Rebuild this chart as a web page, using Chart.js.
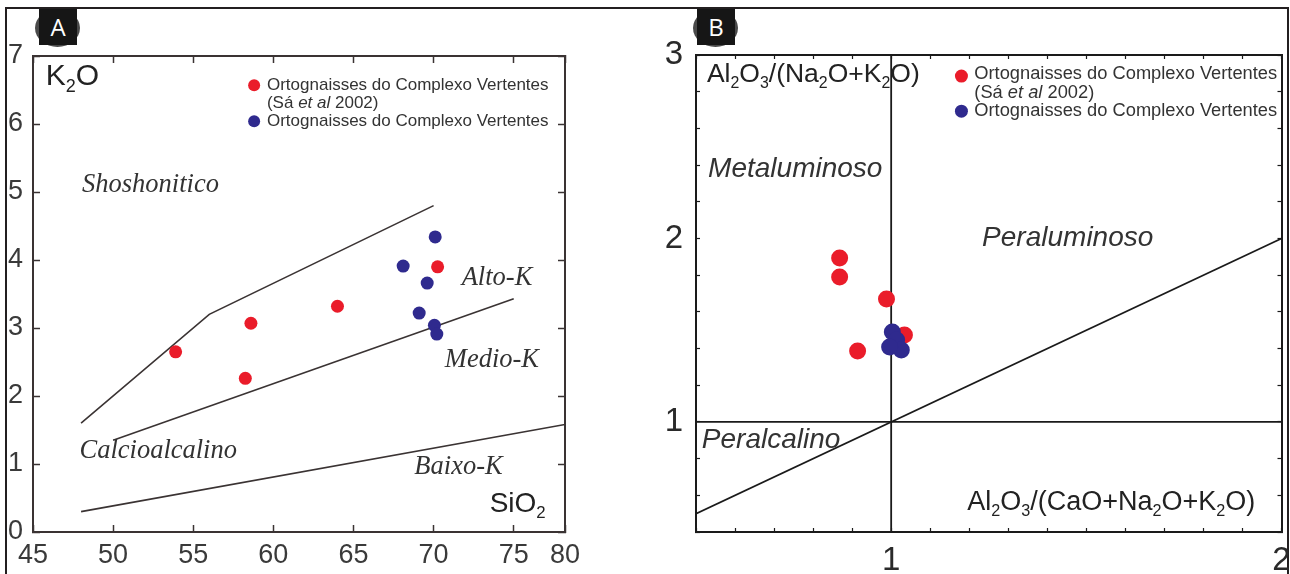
<!DOCTYPE html>
<html><head><meta charset="utf-8">
<script src="https://cdn.jsdelivr.net/npm/chart.js@4.4.1/dist/chart.umd.min.js"></script>
<style>
html,body{margin:0;padding:0;background:#fff;width:1290px;height:574px;overflow:hidden;}
#frame{position:absolute;left:5px;top:7px;width:1284px;height:620px;border:2.5px solid #231f20;box-sizing:border-box;}
.wrap{position:absolute;top:0;height:574px;}
#wrapA{left:0;width:620px;}
#wrapB{left:620px;width:670px;}
.ell{position:absolute;top:9px;width:45px;height:38px;border-radius:50%;background:#4a4a4a;}
.badge{position:absolute;top:9px;width:38px;height:36px;background:#161616;color:#fff;font:24px "Open Sans",sans-serif;text-align:center;line-height:36px;}
</style>
</head><body>
<div id="frame"></div>
<div class="wrap" id="wrapA"><canvas id="cA" width="620" height="574"></canvas></div>
<div class="wrap" id="wrapB"><canvas id="cB" width="670" height="574"></canvas></div>
<div class="ell" style="left:35px"></div><div class="badge" style="left:39px">A</div>
<div class="ell" style="left:693px"></div><div class="badge" style="left:697px">B</div>
<script>
// ---------- Panel A data (K2O vs SiO2) ----------
const xTickValsA = [45, 50, 55, 60, 65, 70, 75, 78.2];
const xTickLabelsA = ['45', '50', '55', '60', '65', '70', '75', '80'];
const yTickValsA = [0, 1, 2, 3, 4, 5, 6, 7];
const redA_SiO2 = [53.9, 58.6, 58.25, 64.0, 70.25];
const redA_K2O = [2.65, 3.07, 2.26, 3.32, 3.90];
const blueA_SiO2 = [70.1, 68.1, 69.6, 69.1, 70.05, 70.2];
const blueA_K2O = [4.34, 3.91, 3.66, 3.22, 3.04, 2.91];
const shoshoLineSiO2 = [48, 56, 70];
const shoshoLineK2O = [1.6, 3.2, 4.8];
const highKLineSiO2 = [50, 75];
const highKLineK2O = [1.35, 3.43];
const lowKLineSiO2 = [48, 78.2];
const lowKLineK2O = [0.3, 1.58];

// ---------- Panel B data (A/NK vs A/CNK) ----------
const xLabelledB = [1, 2];
const yLabelledB = [1, 2, 3];
const redB_ACNK = [0.868, 0.868, 0.988, 0.914, 1.034];
const redB_ANK = [1.893, 1.79, 1.67, 1.386, 1.474];
const blueB_ACNK = [1.003, 1.014, 1.026, 0.996];
const blueB_ANK = [1.49, 1.446, 1.392, 1.408];
const diagLineX = [0.5, 2];
const diagLineY = [0.5, 2];
const vLineX = [1, 1];
const vLineY = [0.4, 3];
const hLineX = [0.5, 2];
const hLineY = [1, 1];

const legendText1 = 'Ortognaisses do Complexo Vertentes';
const RED = '#ea1c2a', BLUE = '#2f2a8e', AX = '#3a3333', TXT = '#333333';

function pts(xs, ys) { return xs.map((x, i) => ({x: x, y: ys[i]})); }

function rich(ctx, x, y, parts, size, family, color, italic) {
  ctx.save();
  ctx.fillStyle = color; ctx.textBaseline = 'middle'; ctx.textAlign = 'left';
  let cx = x;
  parts.forEach(p => {
    const [t, k] = p;
    const it = italic || k === 'i';
    const sz = k === 's' ? size * 0.6 : size;
    ctx.font = (it ? 'italic ' : '') + sz + 'px ' + family;
    const dy = k === 's' ? size * 0.32 : 0;
    ctx.fillText(t, cx, y + dy);
    cx += ctx.measureText(t).width;
  });
  ctx.restore();
}
function dot(ctx, x, y, r, c) { ctx.save(); ctx.fillStyle = c; ctx.beginPath(); ctx.arc(x, y, r, 0, Math.PI * 2); ctx.fill(); ctx.restore(); }

function fixedAxis(size, horiz) {
  return function (s) {
    if (horiz) s.height = size; else s.width = size;
    s.paddingLeft = 0; s.paddingRight = 0; s.paddingTop = 0; s.paddingBottom = 0;
  };
}

const SANS = '"Liberation Sans", Arial, sans-serif';
const SERIF = '"Liberation Serif", "Times New Roman", serif';

// ---------- Chart A ----------
const annotA = {
  id: 'annotA',
  afterDatasetsDraw(chart) {
    const c = chart.ctx, X = v => chart.scales.x.getPixelForValue(v), Y = v => chart.scales.y.getPixelForValue(v);
    c.save();
    c.font = 'italic 26.5px ' + SERIF; c.fillStyle = TXT; c.textBaseline = 'middle';
    c.fillText('Shoshonitico', X(48.06), Y(5.10));
    c.fillText('Alto-K', X(71.75), Y(3.74));
    c.fillText('Medio-K', X(70.7), Y(2.53));
    c.fillText('Calcioalcalino', X(47.9), Y(1.19));
    c.fillText('Baixo-K', X(68.8), Y(0.96));
    c.restore();
    rich(c, X(45.8), Y(6.69), [['K'], ['2', 's'], ['O']], 30, SANS, '#222');
    rich(c, X(73.5), Y(0.41), [['SiO'], ['2', 's']], 28, SANS, '#222');
    dot(c, X(58.8), Y(6.57), 6, RED);
    dot(c, X(58.8), Y(6.04), 6, BLUE);
    rich(c, X(59.6), Y(6.57), [[legendText1]], 17, SANS, TXT);
    rich(c, X(59.6), Y(6.31), [['(Sá '], ['et al', 'i'], [' 2002)']], 17, SANS, TXT);
    rich(c, X(59.6), Y(6.04), [[legendText1]], 17, SANS, TXT);
  }
};

const lineDs = (xs, ys, w, col) => ({type: 'line', data: pts(xs, ys), showLine: true, pointRadius: 0, borderColor: col, borderWidth: w, fill: false, tension: 0});

new Chart(document.getElementById('cA'), {
  type: 'scatter',
  data: {
    datasets: [
      {data: pts(blueA_SiO2, blueA_K2O), backgroundColor: BLUE, borderWidth: 0, pointRadius: 6.5},
      {data: pts(redA_SiO2, redA_K2O), backgroundColor: RED, borderWidth: 0, pointRadius: 6.5},
      lineDs(shoshoLineSiO2, shoshoLineK2O, 1.6, AX),
      lineDs(highKLineSiO2, highKLineK2O, 1.6, AX),
      lineDs(lowKLineSiO2, lowKLineK2O, 1.6, AX)
    ]
  },
  options: {
    responsive: false, animation: false, devicePixelRatio: 1,
    layout: {padding: 0},
    plugins: {legend: {display: false}, tooltip: {enabled: false}},
    scales: {
      x: {type: 'linear', position: 'bottom', min: 45, max: 78.2,
        afterBuildTicks: s => { s.ticks = xTickValsA.map(v => ({value: v})); },
        afterFit: fixedAxis(42, true),
        ticks: {callback: v => xTickLabelsA[xTickValsA.indexOf(v)], font: {family: SANS, size: 27}, color: '#3a3a3a', padding: 14, maxRotation: 0, autoSkip: false},
        grid: {drawOnChartArea: false, tickLength: -7, tickColor: AX, tickWidth: 1.5},
        border: {color: AX, width: 2}},
      x2: {type: 'linear', position: 'top', min: 45, max: 78.2,
        afterBuildTicks: s => { s.ticks = xTickValsA.map(v => ({value: v})); },
        afterFit: fixedAxis(56, true),
        ticks: {display: false},
        grid: {drawOnChartArea: false, tickLength: -7, tickColor: AX, tickWidth: 1.5},
        border: {color: AX, width: 2}},
      y: {type: 'linear', position: 'left', min: 0, max: 7,
        afterBuildTicks: s => { s.ticks = yTickValsA.map(v => ({value: v})); },
        afterFit: fixedAxis(33, false),
        ticks: {font: {family: SANS, size: 27}, color: '#3a3a3a', padding: 17},
        grid: {drawOnChartArea: false, tickLength: -7, tickColor: AX, tickWidth: 1.5},
        border: {color: AX, width: 2}},
      y2: {type: 'linear', position: 'right', min: 0, max: 7,
        afterBuildTicks: s => { s.ticks = yTickValsA.map(v => ({value: v})); },
        afterFit: fixedAxis(55, false),
        ticks: {display: false},
        grid: {drawOnChartArea: false, tickLength: -7, tickColor: AX, tickWidth: 1.5},
        border: {color: AX, width: 2}}
    }
  },
  plugins: [annotA]
});

// ---------- Chart B ----------
const annotB = {
  id: 'annotB',
  afterDatasetsDraw(chart) {
    const c = chart.ctx, X = v => chart.scales.x.getPixelForValue(v), Y = v => chart.scales.y.getPixelForValue(v);
    rich(c, X(0.528), Y(2.89), [['Al'], ['2', 's'], ['O'], ['3', 's'], ['/(Na'], ['2', 's'], ['O+K'], ['2', 's'], ['O)']], 26.5, SANS, '#222');
    rich(c, X(1.195), Y(0.558), [['Al'], ['2', 's'], ['O'], ['3', 's'], ['/(CaO+Na'], ['2', 's'], ['O+K'], ['2', 's'], ['O)']], 27, SANS, '#222');
    rich(c, X(0.531), Y(2.378), [['Metaluminoso']], 28, SANS, TXT, true);
    rich(c, X(1.233), Y(2.002), [['Peraluminoso']], 28, SANS, TXT, true);
    rich(c, X(0.515), Y(0.901), [['Peralcalino']], 28, SANS, TXT, true);
    dot(c, X(1.18), Y(2.885), 6.5, RED);
    dot(c, X(1.18), Y(2.694), 6.5, BLUE);
    rich(c, X(1.213), Y(2.896), [[legendText1]], 18.3, SANS, TXT);
    rich(c, X(1.213), Y(2.792), [['(Sá '], ['et al', 'i'], [' 2002)']], 18.3, SANS, TXT);
    rich(c, X(1.213), Y(2.694), [[legendText1]], 18.3, SANS, TXT);
  }
};
const BX = '#1a1a1a';
const isLab = (arr, v) => arr.some(a => Math.abs(a - v) < 1e-6);
new Chart(document.getElementById('cB'), {
  type: 'scatter',
  data: {
    datasets: [
      {data: pts(blueB_ACNK, blueB_ANK), backgroundColor: BLUE, borderWidth: 0, pointRadius: 8.5},
      {data: pts(redB_ACNK, redB_ANK), backgroundColor: RED, borderWidth: 0, pointRadius: 8.5},
      lineDs(diagLineX, diagLineY, 1.8, BX),
      lineDs(vLineX, vLineY, 1.8, BX),
      lineDs(hLineX, hLineY, 1.8, BX)
    ]
  },
  options: {
    responsive: false, animation: false, devicePixelRatio: 1,
    layout: {padding: 0},
    plugins: {legend: {display: false}, tooltip: {enabled: false}},
    scales: {
      x: {type: 'linear', position: 'bottom', min: 0.5, max: 2,
        afterFit: fixedAxis(42, true),
        ticks: {stepSize: 0.1, autoSkip: false, maxRotation: 0, callback: v => isLab(xLabelledB, v) ? String(Math.round(v)) : '', font: {family: SANS, size: 33}, color: '#2a2a2a', padding: 13},
        grid: {drawOnChartArea: false, tickLength: -4, tickColor: BX, tickWidth: 1.2},
        border: {color: BX, width: 2}},
      x2: {type: 'linear', position: 'top', min: 0.5, max: 2,
        afterFit: fixedAxis(55, true),
        ticks: {stepSize: 0.1, autoSkip: false, display: false},
        grid: {drawOnChartArea: false, tickLength: -4, tickColor: BX, tickWidth: 1.2},
        border: {color: BX, width: 2}},
      y: {type: 'linear', position: 'left', min: 0.4, max: 3,
        afterFit: fixedAxis(76, false),
        ticks: {stepSize: 0.2, autoSkip: false, callback: v => isLab(yLabelledB, v) ? String(Math.round(v)) : '', font: {family: SANS, size: 33}, color: '#2a2a2a', padding: 17},
        grid: {drawOnChartArea: false, tickLength: -4, tickColor: BX, tickWidth: 1.2},
        border: {color: BX, width: 2}},
      y2: {type: 'linear', position: 'right', min: 0.4, max: 3,
        afterFit: fixedAxis(7, false),
        ticks: {stepSize: 0.2, autoSkip: false, display: false},
        grid: {drawOnChartArea: false, tickLength: -4, tickColor: BX, tickWidth: 1.2},
        border: {color: BX, width: 2}}
    }
  },
  plugins: [annotB]
});
</script>
</body></html>
